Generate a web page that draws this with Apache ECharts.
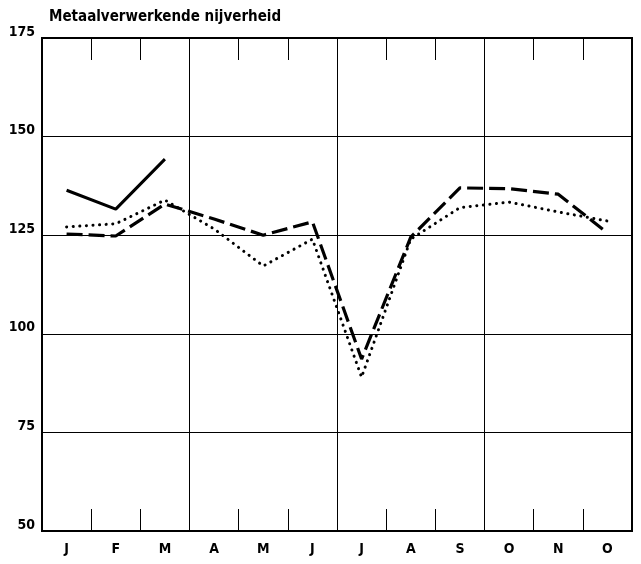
<!DOCTYPE html>
<html>
<head>
<meta charset="utf-8">
<script src="https://cdn.jsdelivr.net/npm/echarts@6/dist/echarts.min.js"></script>
<style>
html,body{margin:0;padding:0;background:#fff;}
#c{width:641px;height:564px;}
</style>
</head>
<body>
<div id="c"></div>
<script>
var title = 'Metaalverwerkende nijverheid';
var months = ['J','F','M','A','M','J','J','A','S','O','N','O'];
var yTicks = [50, 75, 100, 125, 150, 175];
var seriesSolid = [136.4, 131.6, 144.3, null, null, null, null, null, null, null, null, null];
var seriesDashed = [125.3, 124.8, 132.9, 129.1, 125.0, 128.4, 93.6, 124.5, 137.0, 136.8, 135.4, 125.6];
var seriesDotted = [127.1, 127.9, 133.9, 126.6, 117.2, 124.0, 89.0, 124.0, 132.0, 133.4, 130.9, 128.6];

var FONT = 'DejaVu Sans Condensed';
var chart = echarts.init(document.getElementById('c'), null, {renderer: 'canvas'});
chart.setOption({
  animation: false,
  backgroundColor: '#fff',
  title: {
    text: title, left: 44, top: 5,
    textStyle: {fontFamily: FONT, fontSize: 15, fontWeight: 'bold', color: '#000'}
  },
  grid: {left: 42, right: 9, top: 38, bottom: 33, show: true, borderColor: '#000', borderWidth: 2, backgroundColor: 'transparent'},
  xAxis: [{
    type: 'category', data: months, boundaryGap: true, position: 'bottom',
    axisLine: {show: true, lineStyle: {color: '#000', width: 2}},
    axisTick: {show: true, inside: true, length: 22, interval: 0, lineStyle: {color: '#000', width: 1}},
    axisLabel: {interval: 0, color: '#000', fontFamily: FONT, fontSize: 14, fontWeight: 'bold', margin: 11},
    splitLine: {show: true, interval: function (i) { return i === 3 || i === 6 || i === 9; }, lineStyle: {color: '#000', width: 1}}
  }, {
    type: 'category', data: months, boundaryGap: true, position: 'top',
    axisLine: {show: true, lineStyle: {color: '#000', width: 2}},
    axisTick: {show: true, inside: true, length: 22, interval: 0, lineStyle: {color: '#000', width: 1}},
    axisLabel: {show: false},
    splitLine: {show: false}
  }],
  yAxis: {
    type: 'value', min: yTicks[0], max: yTicks[yTicks.length - 1], interval: 25,
    axisLine: {show: true, lineStyle: {color: '#000', width: 2}},
    axisTick: {show: false},
    axisLabel: {color: '#000', fontFamily: FONT, fontSize: 14, fontWeight: 'bold', margin: 7, verticalAlign: 'bottom', lineHeight: 12},
    splitLine: {show: true, lineStyle: {color: '#000', width: 1}}
  },
  series: [{
    type: 'line', data: seriesSolid, symbol: 'none', connectNulls: false,
    lineStyle: {color: '#000', width: 3, type: 'solid'}
  }, {
    type: 'line', data: seriesDashed, symbol: 'none',
    lineStyle: {color: '#000', width: 3.2, type: [16, 6]}
  }, {
    type: 'line', data: seriesDotted, symbol: 'none',
    lineStyle: {color: '#000', width: 3, type: [0.1, 6.5], cap: 'round'}
  }]
});
</script>
</body>
</html>
